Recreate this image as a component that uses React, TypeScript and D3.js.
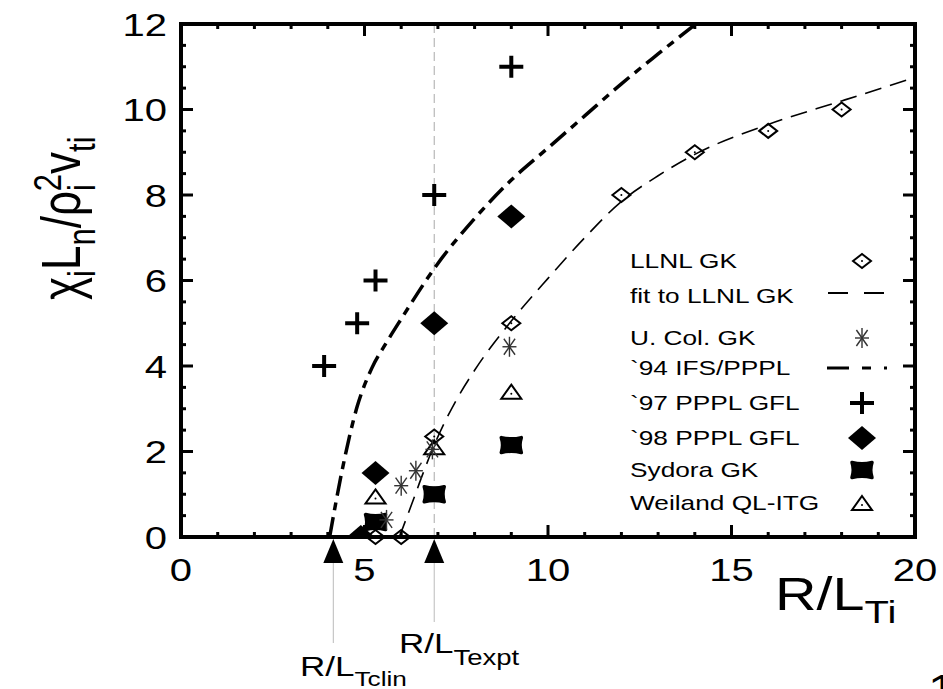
import React from 'react';
import * as d3 from 'd3';

// ---- data ----
const llnlX = [5.3, 6.0, 6.9, 9, 12, 14, 16, 18];
const llnlY = [0, 0, 2.35, 5, 8, 9, 9.5, 10];

const fitX = [5.95, 6.3, 6.6, 6.9, 7.5, 8, 9, 10, 11, 12, 13, 14, 16, 18, 20];
const fitY = [0, 0.8, 1.5, 2.15, 3.2, 3.9, 5.05, 6.05, 7.0, 7.85, 8.45, 8.95, 9.65, 10.2, 10.75];

const ucolX = [5.6, 6.0, 6.4, 6.85, 8.95];
const ucolY = [0.4, 1.2, 1.55, 2.05, 4.45];

const ifsX = [4.05, 4.4, 4.8, 5.2, 5.6, 6, 7, 8, 9, 10, 11, 12, 13, 14.1];
const ifsY = [0, 1.6, 3.05, 3.95, 4.55, 5.1, 6.4, 7.45, 8.35, 9.1, 9.85, 10.6, 11.3, 12.05];

const ppl97X = [3.9, 4.8, 5.3, 6.9, 9.0];
const ppl97Y = [4, 5, 6, 8, 11];

const ppl98X = [4.9, 5.3, 6.9, 9.0];
const ppl98Y = [0, 1.5, 5, 7.5];

const sydX = [5.3, 6.9, 9.0];
const sydY = [0.35, 1.0, 2.15];

const weilX = [5.3, 6.9, 9.0];
const weilY = [0.95, 2.1, 3.4];

const xTickLabels = [0, 5, 10, 15, 20];
const yTickLabels = [0, 2, 4, 6, 8, 10, 12];

const refMarks = [
  { x: 4.15, main: 'R/L', sub: 'Tclin' },
  { x: 6.9, main: 'R/L', sub: 'Texpt' },
];

const legendLabels = [
  'LLNL GK',
  'fit to LLNL GK',
  'U. Col. GK',
  '`94 IFS/PPPL',
  '`97 PPPL GFL',
  '`98 PPPL GFL',
  'Sydora GK',
  'Weiland QL-ITG',
];
const legendKinds = ['openDiamond', 'fitLine', 'asterisk', 'ifsLine', 'plus', 'filledDiamond', 'sydora', 'triangle'];

const FONT = '"Liberation Sans", Arial, Helvetica, sans-serif';
const SX = 1.25;

function Marker({ kind, cx, cy }: { kind: string; cx: number; cy: number }) {
  switch (kind) {
    case 'openDiamond': {
      const hw = 9, hh = 7;
      return (
        <g>
          <path d={`M${cx - hw},${cy}L${cx},${cy - hh}L${cx + hw},${cy}L${cx},${cy + hh}Z`} fill="none" stroke="#000" strokeWidth={2} />
          <circle cx={cx} cy={cy} r={1} fill="#000" />
        </g>
      );
    }
    case 'filledDiamond': {
      const hw = 14, hh = 12;
      return <path d={`M${cx - hw},${cy}L${cx},${cy - hh}L${cx + hw},${cy}L${cx},${cy + hh}Z`} fill="#000" />;
    }
    case 'plus': {
      return (
        <g stroke="#000" strokeWidth={4}>
          <line x1={cx - 12} y1={cy} x2={cx + 12} y2={cy} />
          <line x1={cx} y1={cy - 11} x2={cx} y2={cy + 11} />
        </g>
      );
    }
    case 'asterisk': {
      const hw = 7, hh = 10;
      return (
        <g stroke="#333" strokeWidth={1.4}>
          <line x1={cx - hw} y1={cy} x2={cx + hw} y2={cy} />
          <line x1={cx} y1={cy - hh} x2={cx} y2={cy + hh} />
          <line x1={cx - hw * 0.8} y1={cy - hh * 0.8} x2={cx + hw * 0.8} y2={cy + hh * 0.8} />
          <line x1={cx - hw * 0.8} y1={cy + hh * 0.8} x2={cx + hw * 0.8} y2={cy - hh * 0.8} />
        </g>
      );
    }
    case 'sydora': {
      const hw = 10, hh = 7.5, k = 2.5;
      const d = `M${cx - hw},${cy - hh}Q${cx},${cy - hh + k} ${cx + hw},${cy - hh}Q${cx + hw - k},${cy} ${cx + hw},${cy + hh}Q${cx},${cy + hh - k} ${cx - hw},${cy + hh}Q${cx - hw + k},${cy} ${cx - hw},${cy - hh}Z`;
      return <path d={d} fill="#000" stroke="#000" strokeWidth={3.5} strokeLinejoin="round" />;
    }
    case 'triangle': {
      const hw = 10, hh = 7;
      return (
        <g>
          <path d={`M${cx},${cy - hh}L${cx + hw},${cy + hh}L${cx - hw},${cy + hh}Z`} fill="none" stroke="#000" strokeWidth={2} />
          <circle cx={cx} cy={cy + 2} r={1} fill="#000" />
        </g>
      );
    }
    default:
      return null;
  }
}

export default function App() {
  const x = d3.scaleLinear().domain([0, 20]).range([181, 915]);
  const y = d3.scaleLinear().domain([0, 12]).range([537, 24]);
  const [x0, x1] = x.range();
  const [y0, y1] = y.range();

  const line = d3
    .line<[number, number]>()
    .x((d) => x(d[0]))
    .y((d) => y(d[1]))
    .curve(d3.curveMonotoneX);

  const fitPath = line(fitX.map((v, i) => [v, fitY[i]]) as [number, number][]) || '';
  const ifsPath = line(ifsX.map((v, i) => [v, ifsY[i]]) as [number, number][]) || '';

  const xMinor = d3.range(0, 21, 1);
  const yMinor = d3.range(0, 12.01, 0.5);

  const legendBase = [268, 303, 345, 375, 410, 445, 477, 510];

  return (
    <svg
      width={943}
      height={689}
      viewBox="0 0 943 689"
      style={{ position: 'absolute', left: 0, top: 0, background: '#fff' }}
      fontFamily={FONT}
    >
      <defs>
        <clipPath id="plotClip">
          <rect x={x0} y={y1} width={x1 - x0} height={y0 - y1} />
        </clipPath>
      </defs>
      <rect x={0} y={0} width={943} height={689} fill="#fff" />

      {/* experimental reference vertical dashed line */}
      <line x1={x(6.9)} x2={x(6.9)} y1={y1} y2={y0} stroke="#aaa" strokeWidth={1} strokeDasharray="9 5" />

      {/* curves */}
      <g clipPath="url(#plotClip)" fill="none" stroke="#000">
        <path d={fitPath} strokeWidth={1.6} strokeDasharray="17 9" />
        <path d={ifsPath} strokeWidth={3.5} strokeDasharray="20 7 8 7" />
      </g>

      {/* data markers */}
      <g clipPath="url(#plotClip)">
        {ppl98X.map((v, i) => (
          <Marker key={'f' + i} kind="filledDiamond" cx={x(v)} cy={y(ppl98Y[i])} />
        ))}
      </g>
      {sydX.map((v, i) => (
        <Marker key={'s' + i} kind="sydora" cx={x(v)} cy={y(sydY[i])} />
      ))}
      {weilX.map((v, i) => (
        <Marker key={'w' + i} kind="triangle" cx={x(v)} cy={y(weilY[i])} />
      ))}
      {llnlX.map((v, i) => (
        <Marker key={'l' + i} kind="openDiamond" cx={x(v)} cy={y(llnlY[i])} />
      ))}
      {ucolX.map((v, i) => (
        <Marker key={'u' + i} kind="asterisk" cx={x(v)} cy={y(ucolY[i])} />
      ))}
      {ppl97X.map((v, i) => (
        <Marker key={'p' + i} kind="plus" cx={x(v)} cy={y(ppl97Y[i])} />
      ))}

      {/* ticks */}
      <g stroke="#000" strokeWidth={3}>
        {xMinor.map((v) => {
          const major = v % 5 === 0;
          const L = major ? 12 : 5;
          return (
            <g key={'xt' + v}>
              <line x1={x(v)} x2={x(v)} y1={y0} y2={y0 - L} />
              <line x1={x(v)} x2={x(v)} y1={y1} y2={y1 + L} />
            </g>
          );
        })}
        {yMinor.map((v) => {
          const major = Math.abs(v % 2) < 1e-9;
          const L = major ? 12 : 5;
          return (
            <g key={'yt' + v}>
              <line x1={x0} x2={x0 + L} y1={y(v)} y2={y(v)} />
              <line x1={x1} x2={x1 - L} y1={y(v)} y2={y(v)} />
            </g>
          );
        })}
      </g>

      {/* frame */}
      <rect x={x0} y={y1} width={x1 - x0} height={y0 - y1} fill="none" stroke="#000" strokeWidth={4} />

      {/* tick labels */}
      {xTickLabels.map((v) => (
        <text key={'xl' + v} transform={`translate(${x(v)},581) scale(${SX},1)`} fontSize={32} textAnchor="middle" fill="#000">
          {v}
        </text>
      ))}
      {yTickLabels.map((v) => (
        <text key={'yl' + v} transform={`translate(167,${y(v) + 11.5}) scale(${SX},1)`} fontSize={32} textAnchor="end" fill="#000">
          {v}
        </text>
      ))}

      {/* reference markers below axis */}
      {refMarks.map((m, i) => {
        const cx = x(m.x);
        return (
          <g key={'rm' + i}>
            <line x1={cx} x2={cx} y1={563} y2={i === 0 ? 643 : 622} stroke="#bbb" strokeWidth={1} />
            <path d={`M${cx},${539}L${cx + 10},${563}L${cx - 10},${563}Z`} fill="#000" />
          </g>
        );
      })}
      <text transform={`translate(300,676) scale(${SX},1)`} fontSize={28} fill="#000">
        R/L<tspan fontSize={21} dy={10}>Tclin</tspan>
      </text>
      <text transform={`translate(399,653) scale(${SX},1)`} fontSize={28} fill="#000">
        R/L<tspan fontSize={22} dy={12}>Texpt</tspan>
      </text>

      {/* axis titles */}
      <text transform={`translate(775,610) scale(${SX},1)`} fontSize={46} fill="#000">
        R/L<tspan fontSize={32} dy={13}>Ti</tspan>
      </text>
      <text transform={`translate(80,300) scale(${SX},1) rotate(-90)`} fontSize={44} fill="#000">
        χ<tspan fontSize={31} dy={12}>i</tspan>
        <tspan dy={-12}>L</tspan>
        <tspan fontSize={31} dy={12}>n</tspan>
        <tspan dy={-12}>/ρ</tspan>
        <tspan fontSize={31} dy={12}>i</tspan>
        <tspan fontSize={31} dx={-7} dy={-27}>2</tspan>
        <tspan dy={15}>v</tspan>
        <tspan fontSize={31} dy={12}>ti</tspan>
      </text>

      {/* legend */}
      {legendLabels.map((lab, i) => {
        const by = legendBase[i];
        const kind = legendKinds[i];
        const sy = by - 7;
        let sym: React.ReactNode = null;
        if (kind === 'fitLine') {
          sym = <line x1={828} x2={887} y1={sy - 3} y2={sy - 3} stroke="#000" strokeWidth={2} strokeDasharray="20 16" />;
        } else if (kind === 'ifsLine') {
          sym = <line x1={827} x2={890} y1={sy} y2={sy} stroke="#000" strokeWidth={3} strokeDasharray="22 13 9 13 3 20" />;
        } else {
          sym = <Marker kind={kind} cx={862} cy={sy} />;
        }
        return (
          <g key={'lg' + i}>
            <text transform={`translate(630,${by}) scale(${SX},1)`} fontSize={21} fill="#000">
              {lab}
            </text>
            {sym}
          </g>
        );
      })}

      {/* cut-off page number at corner */}
      <text transform={`translate(928,703) scale(${SX},1)`} fontSize={40} fill="#000">
        1
      </text>
    </svg>
  );
}
